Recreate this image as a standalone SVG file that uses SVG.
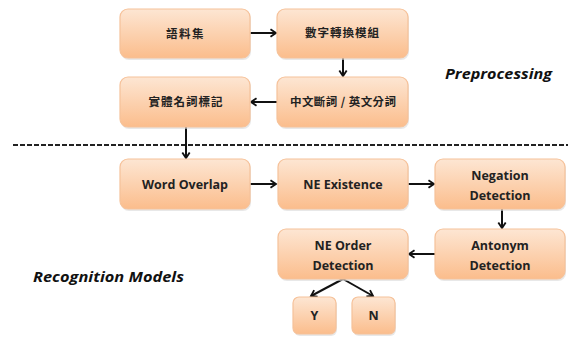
<svg xmlns="http://www.w3.org/2000/svg" width="568" height="337" viewBox="0 0 568 337">
<style>
.box{fill:url(#g);stroke:#f6c29a;stroke-width:1.2}
.sh{fill:#d9d9d9;opacity:0.6}
.cjk{font-family:"Noto Sans CJK TC","Noto Sans CJK SC",sans-serif;font-size:11.5px;fill:#222;text-anchor:middle;font-weight:bold}
.en{font-family:"Open Sans","Liberation Sans",sans-serif;font-size:12.5px;font-weight:bold;fill:#222;text-anchor:middle}
.lbl{font-family:"Open Sans","Liberation Sans",sans-serif;font-size:15px;font-weight:bold;font-style:italic;fill:#111}
.c{fill:none;stroke:#111;stroke-width:2;marker-end:url(#a)}
</style>
<defs>
<linearGradient id="g" x1="0" y1="0" x2="0" y2="1">
<stop offset="0" stop-color="#fde6d3"/>
<stop offset="1" stop-color="#fbbd8c"/>
</linearGradient>
<marker id="a" viewBox="0 0 10 10" refX="8" refY="5" markerWidth="4.6" markerHeight="4.6" orient="auto" markerUnits="strokeWidth">
<polyline points="2,1 8,5 2,9" fill="none" stroke="#111" stroke-width="2"/>
</marker>
</defs>
<rect width="568" height="337" fill="#fff"/>
<line x1="13" y1="145" x2="568" y2="145" stroke="#222" stroke-width="2" stroke-dasharray="5,2"/>
<text class="lbl" x="445" y="79" textLength="107" lengthAdjust="spacingAndGlyphs">Preprocessing</text>
<text class="lbl" x="33" y="282" textLength="151" lengthAdjust="spacingAndGlyphs">Recognition Models</text>
<g id="connectors">
<line class="c" x1="250" y1="33" x2="276" y2="33"/>
<line class="c" x1="343" y1="58" x2="343" y2="76"/>
<line class="c" x1="277" y1="102" x2="251" y2="102"/>
<line class="c" x1="186" y1="127" x2="186" y2="158"/>
<line class="c" x1="250" y1="184" x2="276" y2="184"/>
<line class="c" x1="408" y1="184" x2="434" y2="184"/>
<line class="c" x1="502" y1="209" x2="502" y2="228"/>
<line class="c" x1="435" y1="254" x2="409" y2="254"/>
<line class="c" x1="343" y1="279" x2="311" y2="296"/>
<line class="c" x1="343" y1="279" x2="373" y2="296"/>
</g>
<g id="n1"><rect class="sh" x="121" y="11" width="130" height="49" rx="8"/><rect class="box" x="120" y="9" width="130" height="49" rx="8"/><text class="cjk" x="185.5" y="38" font-size="12.5" letter-spacing="1.5">語料集</text></g>
<g id="n2"><rect class="sh" x="278" y="11" width="131" height="49" rx="8"/><rect class="box" x="277" y="9" width="131" height="49" rx="8"/><text class="cjk" x="342.5" y="37" letter-spacing="1">數字轉換模組</text></g>
<g id="n3"><rect class="sh" x="278" y="79" width="131" height="50" rx="8"/><rect class="box" x="277" y="77" width="131" height="50" rx="8"/><text class="cjk" x="343" y="106" textLength="106" lengthAdjust="spacing">中文斷詞 / 英文分詞</text></g>
<g id="n4"><rect class="sh" x="121" y="79" width="130" height="50" rx="8"/><rect class="box" x="120" y="77" width="130" height="50" rx="8"/><text class="cjk" x="186" y="106" letter-spacing="1">實體名詞標記</text></g>
<g id="n5"><rect class="sh" x="121" y="161" width="130" height="50" rx="8"/><rect class="box" x="120" y="159" width="130" height="50" rx="8"/><text class="en" x="185" y="189">Word Overlap</text></g>
<g id="n6"><rect class="sh" x="279" y="161" width="130" height="50" rx="8"/><rect class="box" x="278" y="159" width="130" height="50" rx="8"/><text class="en" x="343" y="189">NE Existence</text></g>
<g id="n7"><rect class="sh" x="436" y="161" width="130" height="50" rx="8"/><rect class="box" x="435" y="159" width="130" height="50" rx="8"/><text class="en" x="500" y="180">Negation</text><text class="en" x="500" y="200">Detection</text></g>
<g id="n8"><rect class="sh" x="436" y="231" width="130" height="50" rx="8"/><rect class="box" x="435" y="229" width="130" height="50" rx="8"/><text class="en" x="500" y="250">Antonym</text><text class="en" x="500" y="270">Detection</text></g>
<g id="n9"><rect class="sh" x="279" y="231" width="130" height="50" rx="8"/><rect class="box" x="278" y="229" width="130" height="50" rx="8"/><text class="en" x="343" y="250">NE Order</text><text class="en" x="343" y="270">Detection</text></g>
<g id="nY"><rect class="sh" x="294" y="299" width="43" height="37" rx="6"/><rect class="box" x="293" y="297" width="43" height="37" rx="6"/><text class="en" x="314.5" y="320">Y</text></g>
<g id="nN"><rect class="sh" x="353" y="299" width="43" height="37" rx="6"/><rect class="box" x="352" y="297" width="43" height="37" rx="6"/><text class="en" x="373.5" y="320">N</text></g>
</svg>
